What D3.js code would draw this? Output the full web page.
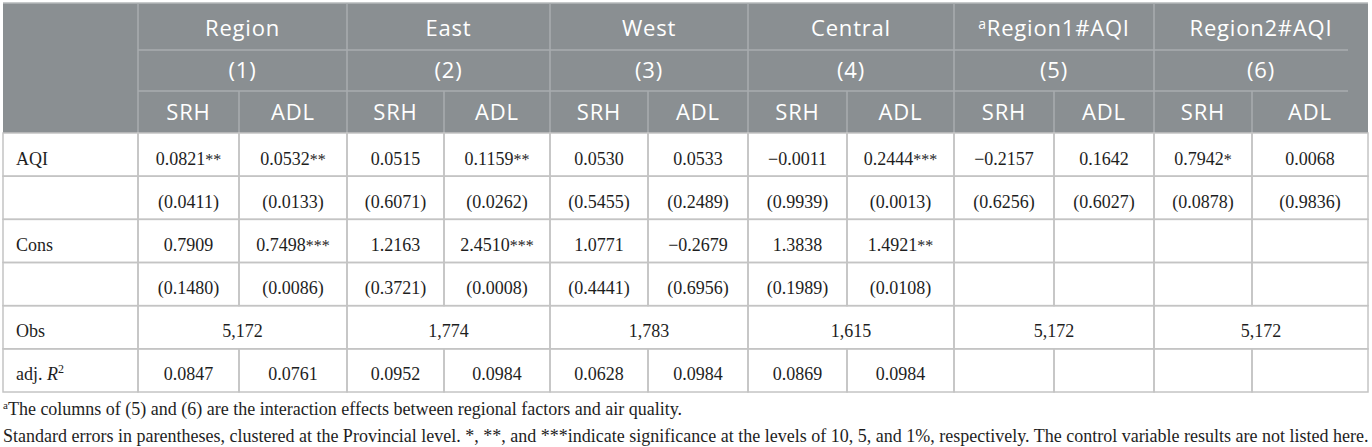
<!DOCTYPE html>
<html>
<head>
<meta charset="utf-8">
<script src="https://cdn.jsdelivr.net/npm/d3@7"></script>
<style>
  body { margin: 0; background: #fff; }
</style>
</head>
<body>
<div class="tablechart"></div>
<script>
// table content
const groups = ["Region", "East", "West", "Central", "Region1#AQI", "Region2#AQI"];
const groupNotes = ["", "", "", "", "a", ""];
const models = ["(1)", "(2)", "(3)", "(4)", "(5)", "(6)"];
const outcomes = ["SRH", "ADL"];
const rowLabels = ["AQI", "", "Cons", "", "Obs", "adj."];

const aqiCoef = [0.0821, 0.0532, 0.0515, 0.1159, 0.0530, 0.0533, -0.0011, 0.2444, -0.2157, 0.1642, 0.7942, 0.0068];
const aqiStars = [2, 2, 0, 2, 0, 0, 0, 3, 0, 0, 1, 0];
const aqiSE = [0.0411, 0.0133, 0.6071, 0.0262, 0.5455, 0.2489, 0.9939, 0.0013, 0.6256, 0.6027, 0.0878, 0.9836];
const consCoef = [0.7909, 0.7498, 1.2163, 2.4510, 1.0771, -0.2679, 1.3838, 1.4921, null, null, null, null];
const consStars = [0, 3, 0, 3, 0, 0, 0, 2, 0, 0, 0, 0];
const consSE = [0.1480, 0.0086, 0.3721, 0.0008, 0.4441, 0.6956, 0.1989, 0.0108, null, null, null, null];
const obs = [5172, 1774, 1783, 1615, 5172, 5172];
const adjR2 = [0.0847, 0.0761, 0.0952, 0.0984, 0.0628, 0.0984, 0.0869, 0.0984, null, null, null, null];

const footnote1 = "The columns of (5) and (6) are the interaction effects between regional factors and air quality.";
const footnote2 = "Standard errors in parentheses, clustered at the Provincial level. *, **, and ***indicate significance at the levels of 10, 5, and 1%, respectively. The control variable results are not listed here.";

// layout
const width = 1372, height = 447;
const colEdges = [3, 138, 239, 347, 444, 550, 648, 748, 847, 954, 1054, 1154, 1252, 1368];
const headEdges = [3, 50, 91, 133];
const bodyTop = 133, bodyBottom = 392;

const headFill = "#8a8f92";
const headLine = "#a8acaf";
const gridLine = "#c4c4c4";
const serif = "'Liberation Serif', 'Times New Roman', serif";
const sans = "'Open Sans', Lato, sans-serif";

const fmt = d3.format(".4f");
const fmtInt = d3.format(",");

const x = d3.scaleLinear().domain(d3.range(colEdges.length)).range(colEdges);
const yHead = d3.scaleLinear().domain(d3.range(headEdges.length)).range(headEdges);
const y = d3.scaleBand().domain(d3.range(rowLabels.length)).range([bodyTop, bodyBottom]);

const svg = d3
  .select(".tablechart")
  .append("svg")
  .attr("width", width)
  .attr("height", height);

// header background
svg
  .append("rect")
  .attr("x", x(0))
  .attr("y", yHead(0))
  .attr("width", x(13) - x(0))
  .attr("height", yHead(3) - yHead(0))
  .attr("fill", headFill);

let head = svg.append("g").attr("class", "head");

// header rules
head
  .append("line")
  .attr("x1", x(0)).attr("x2", x(13))
  .attr("y1", yHead(0)).attr("y2", yHead(0))
  .attr("stroke", "#b5b8ba").attr("stroke-width", 1.5);

[1, 2].forEach(function (r) {
  head
    .append("line")
    .attr("x1", x(1)).attr("x2", x(13) - 20)
    .attr("y1", yHead(r)).attr("y2", yHead(r))
    .attr("stroke", headLine).attr("stroke-width", 1.5);
});

// vertical rules: first column + group borders run full height, splits only in row 3
d3.range(1, 13).forEach(function (c) {
  const full = c === 1 || c % 2 === 1;
  head
    .append("line")
    .attr("x1", x(c)).attr("x2", x(c))
    .attr("y1", full ? yHead(0) : yHead(2))
    .attr("y2", yHead(3))
    .attr("stroke", headLine).attr("stroke-width", 1.5);
});

function headText(cx, cy) {
  return head
    .append("text")
    .attr("x", cx)
    .attr("y", cy)
    .attr("text-anchor", "middle")
    .attr("fill", "#fff")
    .style("font-family", sans)
    .style("font-size", "22px")
    .style("letter-spacing", "0.8px");
}

// group titles
groups.forEach(function (g, i) {
  const t = headText((x(1 + 2 * i) + x(3 + 2 * i)) / 2, yHead(0) + 33);
  if (groupNotes[i]) {
    t.append("tspan").attr("dy", -7).style("font-size", "14px").text(groupNotes[i]);
    t.append("tspan").attr("dy", 7).text(g);
  } else {
    t.text(g);
  }
});

models.forEach(function (m, i) {
  headText((x(1 + 2 * i) + x(3 + 2 * i)) / 2, yHead(1) + 28).text(m);
});

d3.range(12).forEach(function (j) {
  headText((x(j + 1) + x(j + 2)) / 2, yHead(2) + 29).text(outcomes[j % 2]);
});

// body cells: {c0, c1, text, stars}
function coefCells(vals, stars) {
  return vals.map(function (v, j) {
    return { c0: j + 1, c1: j + 2, text: v === null ? "" : fmt(v), stars: v === null ? "" : "*".repeat(stars[j]) };
  });
}
function seCells(vals) {
  return vals.map(function (v, j) {
    return { c0: j + 1, c1: j + 2, text: v === null ? "" : "(" + fmt(v) + ")", stars: "" };
  });
}

const bodyRows = [
  coefCells(aqiCoef, aqiStars),
  seCells(aqiSE),
  coefCells(consCoef, consStars),
  seCells(consSE),
  obs.map(function (v, i) {
    return { c0: 1 + 2 * i, c1: 3 + 2 * i, text: fmtInt(v), stars: "" };
  }),
  coefCells(adjR2, adjR2.map(function () { return 0; })),
];

let body = svg.append("g").attr("class", "body");

bodyRows.forEach(function (cells, r) {
  const row = body.append("g").attr("class", "row");
  const top = y(r);
  const cellsAll = [{ c0: 0, c1: 1 }].concat(cells);

  row
    .selectAll("rect")
    .data(cellsAll)
    .enter()
    .append("rect")
    .attr("x", function (d) { return x(d.c0); })
    .attr("y", top)
    .attr("width", function (d) { return x(d.c1) - x(d.c0); })
    .attr("height", y.bandwidth())
    .attr("fill", "none")
    .attr("stroke", gridLine)
    .attr("stroke-width", 1.5);

  const txt = row
    .selectAll("text.val")
    .data(cells.filter(function (d) { return d.text; }))
    .enter()
    .append("text")
    .attr("class", "val")
    .attr("x", function (d) { return (x(d.c0) + x(d.c1)) / 2; })
    .attr("y", top + 31.5)
    .attr("text-anchor", "middle")
    .attr("fill", "#1e1e1e")
    .style("font-family", serif)
    .style("font-size", "18px");
  txt.append("tspan").text(function (d) { return d.text; });
  txt.append("tspan").style("font-size", "16px").text(function (d) { return d.stars; });

  // row label
  if (rowLabels[r]) {
    const lab = row
      .append("text")
      .attr("x", 16)
      .attr("y", top + 31.5)
      .attr("fill", "#1e1e1e")
      .style("font-family", serif)
      .style("font-size", "18px")
      .text(rowLabels[r]);
    if (r === 5) {
      lab.append("tspan").text(" ");
      lab.append("tspan").style("font-style", "italic").text("R");
      lab.append("tspan").attr("dy", -7).style("font-size", "12px").text("2");
    }
  }
});

// footnotes
const notes = svg.append("g").attr("class", "notes")
  .style("font-family", serif)
  .style("font-size", "18px")
  .attr("fill", "#1e1e1e");

const n1 = notes.append("text").attr("x", 3).attr("y", 415);
n1.append("tspan").attr("dy", -6).style("font-size", "11px").text("a");
n1.append("tspan").attr("dy", 6).text(footnote1);

notes.append("text").attr("x", 3).attr("y", 442).text(footnote2);
</script>
</body>
</html>
